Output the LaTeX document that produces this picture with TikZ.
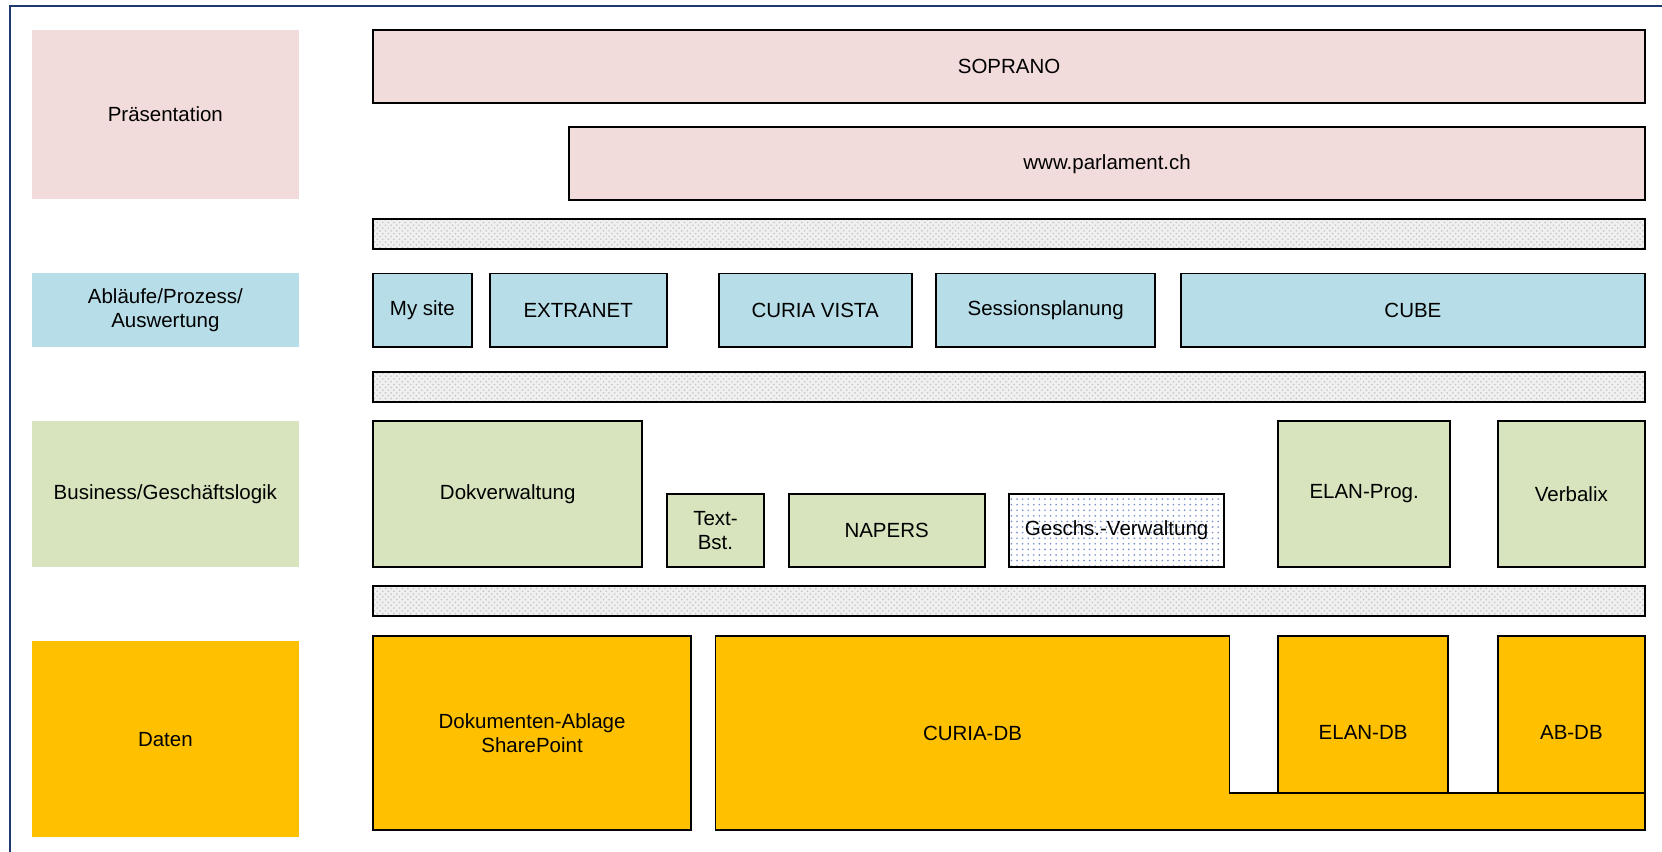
\documentclass[tikz,border=0pt]{standalone}
\usepackage{fontspec}
\setmainfont{Liberation Sans}
\usetikzlibrary{patterns}
\definecolor{praesrot}{HTML}{F2DCDB}
\definecolor{ablaufblau}{HTML}{B7DEE8}
\definecolor{logikgruen}{HTML}{D7E4BD}
\definecolor{datengelb}{HTML}{FFC000}
\definecolor{rahmenblau}{RGB}{31,56,110}
\begin{document}
\begin{tikzpicture}[font=\fontsize{11}{13}\selectfont,
  layer/.style={shape=rectangle,align=center,inner sep=0pt},
  box/.style={shape=rectangle,draw,line width=1pt,align=center,inner sep=0pt},
  bar/.style={box,preaction={fill=black!6},pattern=crosshatch dots,pattern color=black!22}]
  \useasboundingbox (0,0) rectangle (31.36,16.06);
  \draw [rahmenblau,line width=1pt] (32,15.95) -- (0.19,15.95) -- (0.19,-0.5);

  \node (praes) at (3.12,13.90) [layer,fill=praesrot,minimum width=5.04cm,minimum height=3.2cm] {Präsentation} ;
  \node (ablauf) at (3.12,10.21) [layer,fill=ablaufblau,minimum width=5.04cm,minimum height=1.38cm] {Abläufe/Prozess/\\Auswertung} ;
  \node (logik) at (3.12,6.74) [layer,fill=logikgruen,minimum width=5.04cm,minimum height=2.76cm] {Business/Geschäftslogik} ;
  \node (daten) at (3.12,2.11) [layer,fill=datengelb,minimum width=5.04cm,minimum height=3.7cm] {Daten} ;

  \node (soprano) at (19.04,14.81) [box,fill=praesrot,minimum width=24cm,minimum height=1.38cm] {SOPRANO} ;
  \node (www) at (20.89,12.97) [box,fill=praesrot,minimum width=20.3cm,minimum height=1.38cm] {www.parlament.ch} ;
  \node (bar1) at (19.04,11.64) [bar,minimum width=24cm,minimum height=.56cm] {} ;

  \node (mysite) at (7.97,10.21) [box,fill=ablaufblau,minimum width=1.86cm,minimum height=1.38cm] {My site} ;
  \node (extranet) at (10.91,10.21) [box,fill=ablaufblau,minimum width=3.34cm,minimum height=1.38cm] {EXTRANET} ;
  \node (vista) at (15.38,10.21) [box,fill=ablaufblau,minimum width=3.64cm,minimum height=1.38cm] {CURIA VISTA} ;
  \node (session) at (19.73,10.21) [box,fill=ablaufblau,minimum width=4.14cm,minimum height=1.38cm] {Sessionsplanung} ;
  \node (cube) at (26.66,10.21) [box,fill=ablaufblau,minimum width=8.76cm,minimum height=1.38cm] {CUBE} ;
  \node (bar2) at (19.04,8.76) [bar,minimum width=24cm,minimum height=.56cm] {} ;

  \node (dokverw) at (9.58,6.74) [box,fill=logikgruen,minimum width=5.08cm,minimum height=2.76cm] {Dokverwaltung} ;
  \node (textbst) at (13.50,6.05) [box,fill=logikgruen,minimum width=1.84cm,minimum height=1.38cm] {Text-\\Bst.} ;
  \node (napers) at (16.73,6.05) [box,fill=logikgruen,minimum width=3.7cm,minimum height=1.38cm] {NAPERS} ;
  \node (geschs) at (21.07,6.05) [box,preaction={fill=white},pattern=dots,pattern color={rgb,255:red,120;green,145;blue,205},minimum width=4.06cm,minimum height=1.38cm] {Geschs.-Verwaltung} ;
  \node (elanprog) at (25.74,6.74) [box,fill=logikgruen,minimum width=3.24cm,minimum height=2.76cm] {ELAN-Prog.} ;
  \node (verbalix) at (29.65,6.74) [box,fill=logikgruen,minimum width=2.78cm,minimum height=2.76cm] {Verbalix} ;
  \node (bar3) at (19.04,4.72) [bar,minimum width=24cm,minimum height=.56cm] {} ;

  \node (ablage) at (10.04,2.23) [box,fill=datengelb,minimum width=6cm,minimum height=3.66cm] {Dokumenten-Ablage\\SharePoint} ;
  \node (elandb) at (25.72,2.23) [box,fill=datengelb,minimum width=3.2cm,minimum height=3.66cm] {ELAN-DB} ;
  \node (abdb) at (29.65,2.23) [box,fill=datengelb,minimum width=2.78cm,minimum height=3.66cm] {AB-DB} ;
  \draw [line width=1pt,fill=datengelb] (13.50,4.06) -- (23.20,4.06) -- (23.20,1.10) -- (31.04,1.10) -- (31.04,0.40) -- (13.50,0.40) -- cycle;
  \node (curiadb) at (18.35,2.23) {CURIA-DB} ;
\end{tikzpicture}
\end{document}
